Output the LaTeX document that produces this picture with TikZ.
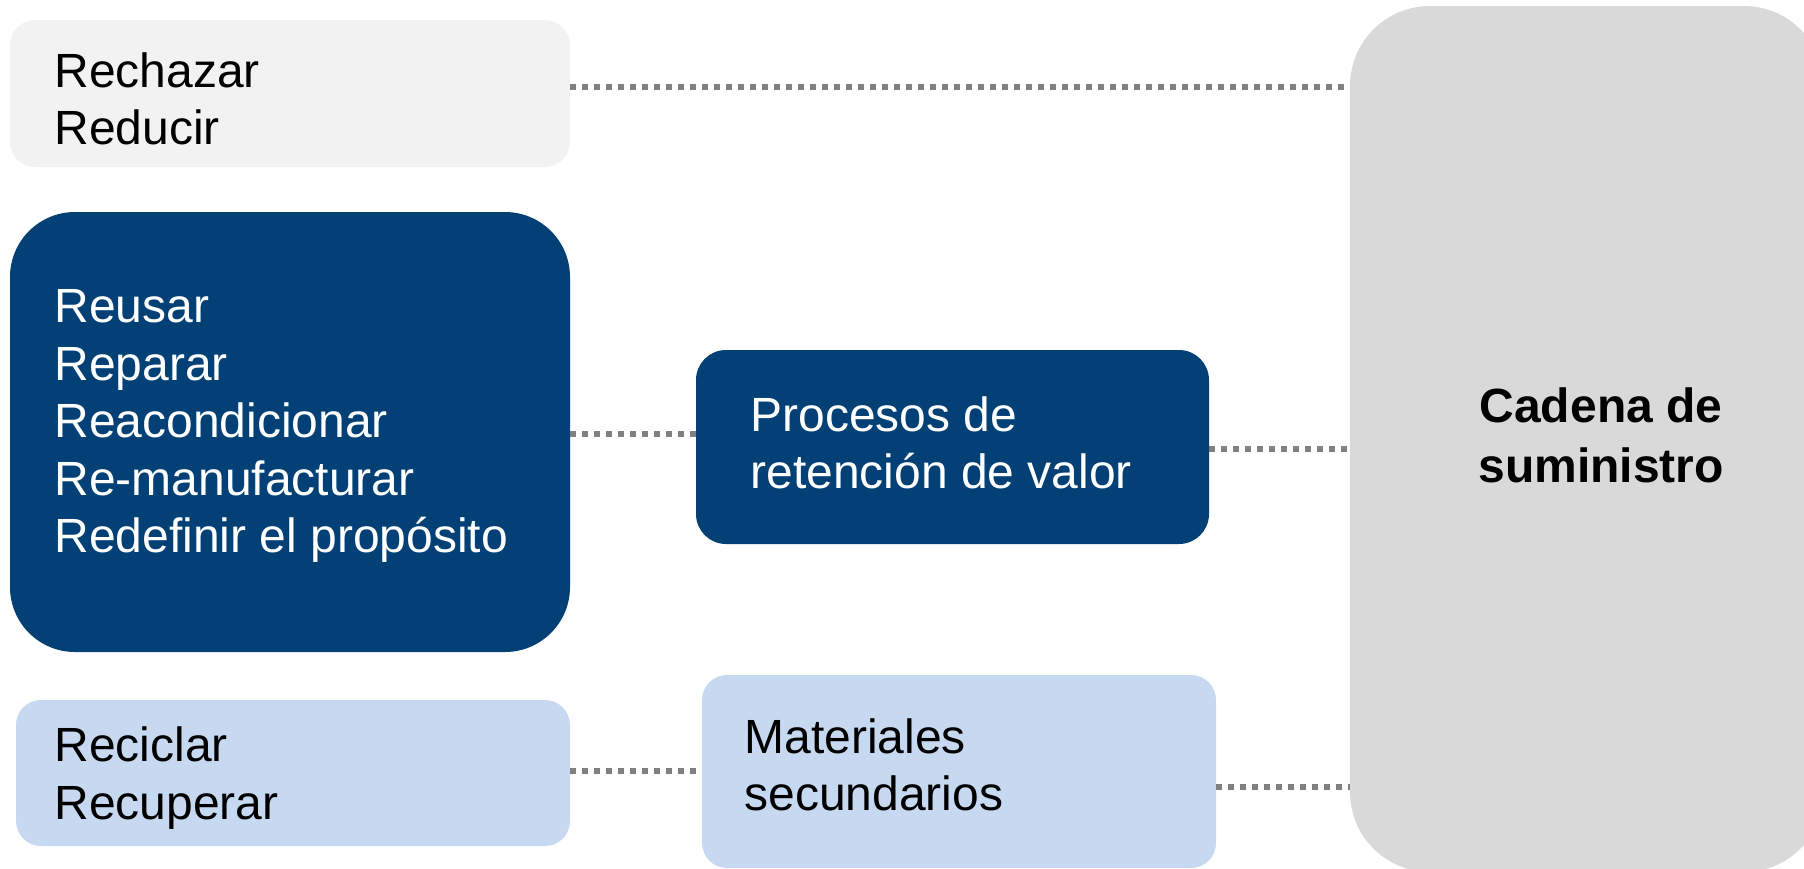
\documentclass[tikz,border=0pt]{standalone}
\usepackage{fontspec}
\setmainfont{Liberation Sans}
\definecolor{navy}{HTML}{024076}
\definecolor{lightblue}{HTML}{C6D9F1}
\definecolor{palegray}{HTML}{F2F2F2}
\definecolor{midgray}{HTML}{D9D9D9}
\definecolor{dotgray}{HTML}{808080}
\tikzset{
  panel/.style={rectangle, inner sep=0pt, draw=none},
  label text/.style={inner sep=0pt, anchor=west, align=left,
    font=\fontsize{24pt}{28.75pt}\selectfont},
  dotline/.style={draw=dotgray, line width=2.8pt, dash pattern=on 2.75pt off 3.25pt}
}
\begin{document}
\begin{tikzpicture}[x=0.5pt,y=-0.5pt]
\useasboundingbox (0,0) rectangle (1804,868);
% boxes
\node[panel, fill=palegray, minimum width=280pt, minimum height=73.5pt, rounded corners=12.5pt] (top) at (290,93.5) {};
\node[panel, fill=navy, minimum width=280pt, minimum height=220pt, rounded corners=32.5pt] (big) at (290,432) {};
\node[panel, fill=navy, minimum width=256.5pt, minimum height=97pt, rounded corners=15pt] (proc) at (952.5,447) {};
\node[panel, fill=lightblue, minimum width=277pt, minimum height=73pt, rounded corners=12.5pt] (recy) at (293,773) {};
\node[panel, fill=lightblue, minimum width=257pt, minimum height=96.5pt, rounded corners=12.5pt] (mat) at (959,771.5) {};
\node[panel, fill=midgray, minimum width=237pt, minimum height=433pt, rounded corners=40pt] (supply) at (1587,439) {};
% texts
\node[label text] (topT) at (54,99) {Rechazar\\Reducir};
\node[label text, text=white] (bigT) at (54,426) {Reusar\\Reparar\\Reacondicionar\\Re-manufacturar\\Redefinir el propósito};
\node[label text, text=white] (procT) at (750,443) {Procesos de\\retención de valor};
\node[label text] (recyT) at (54,778) {Reciclar\\Recuperar};
\node[label text] (matT) at (744,765) {Materiales\\secundarios};
\node[inner sep=0pt, align=center, font=\fontsize{24pt}{30pt}\selectfont\bfseries] (supplyT) at (1601,435) {Cadena de\\suministro};
% level coordinates
\coordinate (l1) at (0,87);
\coordinate (l2) at (0,434);
\coordinate (l3) at (0,449);
\coordinate (l4) at (0,771);
\coordinate (l5) at (0,787);
% connectors
\draw[dotline] (top.east |- l1) -- (supply.west |- l1);
\draw[dotline] (big.east |- l2) -- (proc.west |- l2);
\draw[dotline] (proc.east |- l3) -- (supply.west |- l3);
\draw[dotline] (recy.east |- l4) -- (mat.west |- l4);
\draw[dotline] (mat.east |- l5) -- (supply.west |- l5);
\end{tikzpicture}
\end{document}
